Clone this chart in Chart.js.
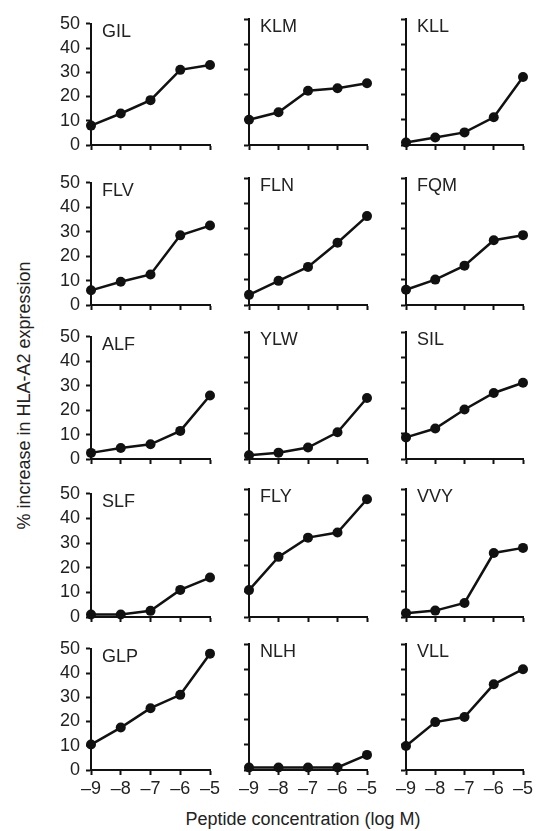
<!DOCTYPE html>
<html>
<head>
<meta charset="utf-8">
<script src="https://cdn.jsdelivr.net/npm/chart.js@4/dist/chart.umd.min.js"></script>
<style>
  html, body { margin: 0; padding: 0; background: #fff; }
  #wrap { position: relative; width: 543px; height: 831px; overflow: hidden; font-family: "Liberation Sans", Arial, sans-serif; color: #222; }
  #wrap canvas { position: absolute; }
  .axis-title { position: absolute; font-size: 18px; white-space: nowrap; text-align: center; }
</style>
</head>
<body>
<div id="wrap">
  <div class="axis-title" id="ytitle" style="left:-126px; top:385px; width:300px; transform:rotate(-90deg);">% increase in HLA-A2 expression</div>
  <div class="axis-title" id="xtitle" style="left:148px; top:809px; width:310px;">Peptide concentration (log M)</div>
</div>
<script>
// x values (log M) and y range
const concentrations = [-9, -8, -7, -6, -5];
const yTicks = [0, 10, 20, 30, 40, 50];

// one array per peptide, % increase
const GIL = [8, 13, 18.5, 31, 33];
const KLM = [10, 13, 21.5, 22.5, 24.5];
const KLL = [1, 3, 5, 11, 27];
const FLV = [6, 9.5, 12.5, 28.5, 32.5];
const FLN = [4, 9.5, 15, 24.5, 35];
const FQM = [6, 10, 15.5, 25.5, 27.5];
const ALF = [2.5, 4.5, 6, 11.5, 26];
const YLW = [1.5, 2.5, 4.5, 10.5, 24];
const SIL = [8.5, 12, 19.5, 26, 30];
const SLF = [1, 1, 2.5, 11, 16];
const FLY = [10.5, 23.5, 31, 33, 46];
const VVY = [1.5, 2.5, 5.5, 25, 27];
const GLP = [10.5, 17.5, 25.5, 31, 48];
const NLH = [1, 1, 1, 1, 6];
const VLL = [9.5, 19, 21, 34, 40];

const panels = [
  ['GIL', GIL], ['KLM', KLM], ['KLL', KLL],
  ['FLV', FLV], ['FLN', FLN], ['FQM', FQM],
  ['ALF', ALF], ['YLW', YLW], ['SIL', SIL],
  ['SLF', SLF], ['FLY', FLY], ['VVY', VVY],
  ['GLP', GLP], ['NLH', NLH], ['VLL', VLL]
];

// grid layout (pixels) - where each small plot sits on the page
const colAxisX = [91, 249, 406];
const colPlotW = [119, 118, 117];
const rowTop = [19, 178, 332, 489, 644];
const rowZero = [145, 305, 459, 617, 770];

const Y_AXIS_W = 60, X_AXIS_H = 34, PAD_TOP = 12, PAD_RIGHT = 14;

Chart.defaults.font.family = '"Liberation Sans", Arial, sans-serif';
Chart.defaults.font.size = 18;
Chart.defaults.color = '#222';

// draws the peptide name in the top left corner of each plot
const panelLabel = {
  id: 'panelLabel',
  afterDraw(chart, args, opts) {
    const { ctx, chartArea } = chart;
    ctx.save();
    ctx.font = '18px "Liberation Sans", Arial, sans-serif';
    ctx.fillStyle = '#222';
    ctx.textBaseline = 'alphabetic';
    ctx.fillText(opts.text, chartArea.left + 11, chartArea.top + 13);
    ctx.restore();
  }
};

const wrap = document.getElementById('wrap');

panels.forEach(([name, values], i) => {
  const row = Math.floor(i / 3);
  const col = i % 3;
  const isLeft = col === 0;
  const isBottom = row === panels.length / 3 - 1;
  const plotH = rowZero[row] - rowTop[row];

  const canvas = document.createElement('canvas');
  canvas.width = Y_AXIS_W + colPlotW[col] + PAD_RIGHT;
  canvas.height = PAD_TOP + plotH + X_AXIS_H;
  canvas.style.left = (colAxisX[col] - Y_AXIS_W) + 'px';
  canvas.style.top = (rowTop[row] - PAD_TOP) + 'px';
  wrap.appendChild(canvas);

  new Chart(canvas.getContext('2d'), {
    type: 'line',
    data: {
      datasets: [{
        data: concentrations.map((x, k) => ({ x: x, y: values[k] })),
        borderColor: '#111',
        backgroundColor: '#111',
        borderWidth: 2.5,
        pointRadius: 5,
        pointBackgroundColor: '#111',
        pointBorderWidth: 0,
        tension: 0,
        clip: false
      }]
    },
    options: {
      responsive: false,
      animation: false,
      layout: { padding: { top: PAD_TOP, right: PAD_RIGHT, left: 0, bottom: 0 } },
      scales: {
        x: {
          type: 'linear',
          min: concentrations[0],
          max: concentrations[concentrations.length - 1],
          afterFit: (s) => { s.height = X_AXIS_H; },
          border: { color: '#111', width: 2 },
          grid: { drawOnChartArea: false, color: '#111', tickLength: 5, tickWidth: 2 },
          ticks: {
            display: isBottom,
            stepSize: 1,
            autoSkip: false,
            padding: 3,
            maxRotation: 0,
            callback: (v) => (v < 0 ? '\u2013' + Math.abs(v) : '' + v)
          }
        },
        y: {
          min: yTicks[0],
          max: yTicks[yTicks.length - 1],
          afterFit: (s) => { s.width = Y_AXIS_W; },
          border: { color: '#111', width: 2 },
          grid: { drawOnChartArea: false, color: '#111', tickLength: 5, tickWidth: 2 },
          ticks: {
            display: isLeft,
            stepSize: 10,
            autoSkip: false,
            padding: 6
          }
        }
      },
      plugins: {
        legend: { display: false },
        tooltip: { enabled: false },
        panelLabel: { text: name }
      }
    },
    plugins: [panelLabel]
  });
});
</script>
</body>
</html>
